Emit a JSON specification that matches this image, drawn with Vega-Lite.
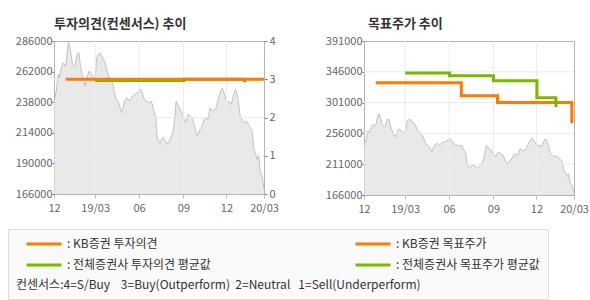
{
  "$schema": "https://vega.github.io/schema/vega-lite/v6.json",
  "background": "white",
  "padding": {"left": 7, "top": 17, "right": 5, "bottom": 0},
  "spacing": 45,
  "datasets": {
    "price": [
      {"d": "2018-12-10", "p": 238000}, {"d": "2018-12-15", "p": 246700}, {"d": "2018-12-19", "p": 259800},
      {"d": "2018-12-22", "p": 257000}, {"d": "2018-12-26", "p": 265000}, {"d": "2018-12-30", "p": 269000},
      {"d": "2019-01-03", "p": 266400}, {"d": "2019-01-06", "p": 270000}, {"d": "2019-01-11", "p": 285500},
      {"d": "2019-01-15", "p": 279500}, {"d": "2019-01-20", "p": 267600}, {"d": "2019-01-25", "p": 266000},
      {"d": "2019-01-30", "p": 275500}, {"d": "2019-02-03", "p": 277000}, {"d": "2019-02-06", "p": 267600},
      {"d": "2019-02-12", "p": 257000}, {"d": "2019-02-17", "p": 250600}, {"d": "2019-02-21", "p": 257000},
      {"d": "2019-02-25", "p": 262400}, {"d": "2019-03-03", "p": 259800}, {"d": "2019-03-08", "p": 257000},
      {"d": "2019-03-11", "p": 258000}, {"d": "2019-03-15", "p": 274000}, {"d": "2019-03-21", "p": 276800},
      {"d": "2019-03-26", "p": 274000}, {"d": "2019-04-01", "p": 270000}, {"d": "2019-04-06", "p": 262400},
      {"d": "2019-04-12", "p": 257000}, {"d": "2019-04-19", "p": 252000}, {"d": "2019-04-25", "p": 241500},
      {"d": "2019-05-02", "p": 237500}, {"d": "2019-05-09", "p": 229700}, {"d": "2019-05-15", "p": 239000},
      {"d": "2019-05-20", "p": 241500}, {"d": "2019-05-26", "p": 239000}, {"d": "2019-06-01", "p": 242800},
      {"d": "2019-06-06", "p": 244000}, {"d": "2019-06-11", "p": 245400}, {"d": "2019-06-16", "p": 246700},
      {"d": "2019-06-19", "p": 248000}, {"d": "2019-06-23", "p": 245400}, {"d": "2019-06-28", "p": 240000},
      {"d": "2019-07-03", "p": 238800}, {"d": "2019-07-09", "p": 237500}, {"d": "2019-07-13", "p": 238800},
      {"d": "2019-07-18", "p": 232300}, {"d": "2019-07-23", "p": 225700}, {"d": "2019-07-26", "p": 210000},
      {"d": "2019-08-01", "p": 206000}, {"d": "2019-08-06", "p": 210000}, {"d": "2019-08-12", "p": 208700},
      {"d": "2019-08-17", "p": 204800}, {"d": "2019-08-23", "p": 208700}, {"d": "2019-08-28", "p": 212600},
      {"d": "2019-09-01", "p": 219200}, {"d": "2019-09-06", "p": 238800}, {"d": "2019-09-11", "p": 234900},
      {"d": "2019-09-17", "p": 231000}, {"d": "2019-09-22", "p": 225700}, {"d": "2019-09-27", "p": 221800},
      {"d": "2019-10-02", "p": 228400}, {"d": "2019-10-07", "p": 227100}, {"d": "2019-10-13", "p": 224400},
      {"d": "2019-10-19", "p": 215300}, {"d": "2019-10-23", "p": 211300}, {"d": "2019-10-28", "p": 216600},
      {"d": "2019-11-02", "p": 219200}, {"d": "2019-11-06", "p": 224400}, {"d": "2019-11-10", "p": 225700},
      {"d": "2019-11-15", "p": 224400}, {"d": "2019-11-20", "p": 233600}, {"d": "2019-11-26", "p": 231000},
      {"d": "2019-12-02", "p": 232300}, {"d": "2019-12-07", "p": 239000}, {"d": "2019-12-13", "p": 246700},
      {"d": "2019-12-17", "p": 249300}, {"d": "2019-12-22", "p": 244000}, {"d": "2019-12-27", "p": 237500},
      {"d": "2020-01-01", "p": 238800}, {"d": "2020-01-06", "p": 236200}, {"d": "2020-01-10", "p": 242800},
      {"d": "2020-01-15", "p": 248000}, {"d": "2020-01-19", "p": 244000}, {"d": "2020-01-23", "p": 233600},
      {"d": "2020-01-26", "p": 225700}, {"d": "2020-01-30", "p": 224400}, {"d": "2020-02-03", "p": 221800},
      {"d": "2020-02-08", "p": 223100}, {"d": "2020-02-13", "p": 220500}, {"d": "2020-02-17", "p": 217800},
      {"d": "2020-02-21", "p": 215300}, {"d": "2020-02-24", "p": 202200}, {"d": "2020-02-28", "p": 198200},
      {"d": "2020-03-03", "p": 193000}, {"d": "2020-03-06", "p": 196900}, {"d": "2020-03-10", "p": 182500},
      {"d": "2020-03-14", "p": 180000}, {"d": "2020-03-18", "p": 169500}
    ],
    "opinion": [
      {"s": "전체증권사 투자의견 평균값", "d": "2019-03-11", "v": 2.97},
      {"s": "전체증권사 투자의견 평균값", "d": "2019-09-23", "v": 3},
      {"s": "전체증권사 투자의견 평균값", "d": "2020-02-04", "v": 2.96},
      {"s": "전체증권사 투자의견 평균값", "d": "2020-02-08", "v": 2.96},
      {"s": "KB증권 투자의견", "d": "2019-01-05", "v": 3},
      {"s": "KB증권 투자의견", "d": "2020-03-18", "v": 3}
    ],
    "target": [
      {"s": "KB증권 목표주가", "d": "2019-01-05", "v": 330000},
      {"s": "KB증권 목표주가", "d": "2019-07-13", "v": 311000},
      {"s": "KB증권 목표주가", "d": "2019-10-01", "v": 301000},
      {"s": "KB증권 목표주가", "d": "2020-03-13", "v": 271000},
      {"s": "전체증권사 목표주가 평균값", "d": "2019-03-11", "v": 344300},
      {"s": "전체증권사 목표주가 평균값", "d": "2019-06-17", "v": 340300},
      {"s": "전체증권사 목표주가 평균값", "d": "2019-09-22", "v": 333000},
      {"s": "전체증권사 목표주가 평균값", "d": "2019-12-27", "v": 308200},
      {"s": "전체증권사 목표주가 평균값", "d": "2020-02-07", "v": 294600}
    ],
    "xgrid": [{"d": "2019-03-11"}, {"d": "2019-06-16"}, {"d": "2019-09-22"}, {"d": "2019-12-26"}],
    "ygridL": [{"v": 1}, {"v": 2}, {"v": 3}],
    "ygridR": [{"v": 211000}, {"v": 256000}, {"v": 301000}, {"v": 346000}]
  },
  "hconcat": [
    {
      "title": {"text": "투자의견(컨센서스) 추이", "anchor": "start", "frame": "group", "fontSize": 13, "fontWeight": "bold", "font": "Noto Sans CJK KR", "color": "#333333", "offset": 4},
      "width": 210,
      "height": 153,
      "layer": [
        {
          "data": {"name": "price"},
          "mark": {"type": "area", "color": "#e0e0e0", "line": {"color": "#c2c2c2", "strokeWidth": 1}},
          "encoding": {
            "x": {"field": "d", "type": "temporal",
              "scale": {"type": "utc", "domain": [{"year": 2018, "month": 12, "date": 10, "utc": true}, {"year": 2020, "month": 3, "date": 18, "utc": true}]},
              "axis": {"title": null, "values": [{"year": 2018, "month": 12, "date": 10, "utc": true}, {"year": 2019, "month": 3, "date": 11, "utc": true}, {"year": 2019, "month": 6, "date": 16, "utc": true}, {"year": 2019, "month": 9, "date": 22, "utc": true}, {"year": 2019, "month": 12, "date": 26, "utc": true}, {"year": 2020, "month": 3, "date": 18, "utc": true}], "labelExpr": "utcmonth(datum.value) == 2 ? utcFormat(datum.value, '%y/%m') : utcFormat(datum.value, '%m')", "labelOverlap": false, "labelFlush": false, "labelPadding": 4, "tickSize": 4, "tickColor": "#bbbbbb"}},
            "y": {"field": "p", "type": "quantitative", "scale": {"domain": [166000, 286000], "nice": false, "zero": false},
              "axis": {"title": null, "values": [166000, 190000, 214000, 238000, 262000, 286000], "format": "d", "labelPadding": 0, "tickSize": 2}},
            "y2": {"datum": 166000}
          }
        },
        {
          "layer": [
            {
              "data": {"name": "xgrid"},
              "mark": {"type": "rule", "color": "#ebebeb", "strokeWidth": 1},
              "encoding": {"x": {"field": "d", "type": "temporal",
                "scale": {"type": "utc", "domain": [{"year": 2018, "month": 12, "date": 10, "utc": true}, {"year": 2020, "month": 3, "date": 18, "utc": true}]},
                "axis": {"title": null, "values": [{"year": 2018, "month": 12, "date": 10, "utc": true}, {"year": 2019, "month": 3, "date": 11, "utc": true}, {"year": 2019, "month": 6, "date": 16, "utc": true}, {"year": 2019, "month": 9, "date": 22, "utc": true}, {"year": 2019, "month": 12, "date": 26, "utc": true}, {"year": 2020, "month": 3, "date": 18, "utc": true}], "labelExpr": "utcmonth(datum.value) == 2 ? utcFormat(datum.value, '%y/%m') : utcFormat(datum.value, '%m')", "labelOverlap": false, "labelFlush": false, "labelPadding": 4, "tickSize": 4, "tickColor": "#bbbbbb"}}}
            },
            {
              "data": {"name": "ygridL"},
              "mark": {"type": "rule", "color": "#ebebeb", "strokeWidth": 1},
              "encoding": {"y": {"field": "v", "type": "quantitative", "scale": {"domain": [0, 4], "nice": false},
                "axis": {"title": null, "orient": "right", "values": [0, 1, 2, 3, 4], "labelPadding": 2, "tickSize": 3}}}
            },
            {
              "data": {"name": "opinion"},
              "mark": {"type": "line", "interpolate": "step-after", "strokeWidth": 3},
              "encoding": {
                "x": {"field": "d", "type": "temporal",
                  "scale": {"type": "utc", "domain": [{"year": 2018, "month": 12, "date": 10, "utc": true}, {"year": 2020, "month": 3, "date": 18, "utc": true}]},
                  "axis": {"title": null, "values": [{"year": 2018, "month": 12, "date": 10, "utc": true}, {"year": 2019, "month": 3, "date": 11, "utc": true}, {"year": 2019, "month": 6, "date": 16, "utc": true}, {"year": 2019, "month": 9, "date": 22, "utc": true}, {"year": 2019, "month": 12, "date": 26, "utc": true}, {"year": 2020, "month": 3, "date": 18, "utc": true}], "labelExpr": "utcmonth(datum.value) == 2 ? utcFormat(datum.value, '%y/%m') : utcFormat(datum.value, '%m')", "labelOverlap": false, "labelFlush": false, "labelPadding": 4, "tickSize": 4, "tickColor": "#bbbbbb"}},
                "y": {"field": "v", "type": "quantitative", "scale": {"domain": [0, 4], "nice": false},
                  "axis": {"title": null, "orient": "right", "values": [0, 1, 2, 3, 4], "labelPadding": 2, "tickSize": 3}},
                "color": {"field": "s", "type": "nominal",
                  "scale": {"domain": ["KB증권 투자의견", "전체증권사 투자의견 평균값", "KB증권 목표주가", "전체증권사 목표주가 평균값"], "range": ["#ff7b00", "#7ab800", "#ff7b00", "#7ab800"]},
                  "legend": {"title": "컨센서스:4=S/Buy\u00a0\u00a0\u00a0\u00a03=Buy(Outperform)\u00a0\u00a02=Neutral\u00a0\u00a0\u00a01=Sell(Underperform)", "labelExpr": "': ' + datum.label", "orient": "none", "legendX": -46, "legendY": 188}}
              }
            }
          ]
        }
      ],
      "resolve": {"scale": {"y": "independent"}}
    },
    {
      "title": {"text": "목표주가 추이", "anchor": "start", "frame": "group", "fontSize": 13, "fontWeight": "bold", "font": "Noto Sans CJK KR", "color": "#333333", "offset": 4, "dx": 4},
      "width": 210,
      "height": 154,
      "layer": [
        {
          "data": {"name": "price"},
          "mark": {"type": "area", "color": "#e0e0e0", "line": {"color": "#c2c2c2", "strokeWidth": 1}},
          "encoding": {
            "x": {"field": "d", "type": "temporal",
              "scale": {"type": "utc", "domain": [{"year": 2018, "month": 12, "date": 10, "utc": true}, {"year": 2020, "month": 3, "date": 18, "utc": true}]},
              "axis": {"title": null, "values": [{"year": 2018, "month": 12, "date": 10, "utc": true}, {"year": 2019, "month": 3, "date": 11, "utc": true}, {"year": 2019, "month": 6, "date": 16, "utc": true}, {"year": 2019, "month": 9, "date": 22, "utc": true}, {"year": 2019, "month": 12, "date": 26, "utc": true}, {"year": 2020, "month": 3, "date": 18, "utc": true}], "labelExpr": "utcmonth(datum.value) == 2 ? utcFormat(datum.value, '%y/%m') : utcFormat(datum.value, '%m')", "labelOverlap": false, "labelFlush": false, "labelPadding": 4, "tickSize": 4, "tickColor": "#bbbbbb"}},
            "y": {"field": "p", "type": "quantitative", "scale": {"domain": [166000, 391000], "nice": false, "zero": false},
              "axis": {"title": null, "values": [166000, 211000, 256000, 301000, 346000, 391000], "format": "d", "labelPadding": 0, "tickSize": 2}},
            "y2": {"datum": 166000}
          }
        },
        {
          "data": {"name": "xgrid"},
          "mark": {"type": "rule", "color": "#ebebeb", "strokeWidth": 1},
          "encoding": {"x": {"field": "d", "type": "temporal",
            "scale": {"type": "utc", "domain": [{"year": 2018, "month": 12, "date": 10, "utc": true}, {"year": 2020, "month": 3, "date": 18, "utc": true}]},
            "axis": {"title": null, "values": [{"year": 2018, "month": 12, "date": 10, "utc": true}, {"year": 2019, "month": 3, "date": 11, "utc": true}, {"year": 2019, "month": 6, "date": 16, "utc": true}, {"year": 2019, "month": 9, "date": 22, "utc": true}, {"year": 2019, "month": 12, "date": 26, "utc": true}, {"year": 2020, "month": 3, "date": 18, "utc": true}], "labelExpr": "utcmonth(datum.value) == 2 ? utcFormat(datum.value, '%y/%m') : utcFormat(datum.value, '%m')", "labelOverlap": false, "labelFlush": false, "labelPadding": 4, "tickSize": 4, "tickColor": "#bbbbbb"}}}
        },
        {
          "data": {"name": "ygridR"},
          "mark": {"type": "rule", "color": "#ebebeb", "strokeWidth": 1},
          "encoding": {"y": {"field": "v", "type": "quantitative", "scale": {"domain": [166000, 391000], "nice": false, "zero": false},
            "axis": {"title": null, "values": [166000, 211000, 256000, 301000, 346000, 391000], "format": "d", "labelPadding": 0, "tickSize": 2}}}
        },
        {
          "data": {"name": "target"},
          "mark": {"type": "line", "interpolate": "step-after", "strokeWidth": 3},
          "encoding": {
            "x": {"field": "d", "type": "temporal",
              "scale": {"type": "utc", "domain": [{"year": 2018, "month": 12, "date": 10, "utc": true}, {"year": 2020, "month": 3, "date": 18, "utc": true}]},
              "axis": {"title": null, "values": [{"year": 2018, "month": 12, "date": 10, "utc": true}, {"year": 2019, "month": 3, "date": 11, "utc": true}, {"year": 2019, "month": 6, "date": 16, "utc": true}, {"year": 2019, "month": 9, "date": 22, "utc": true}, {"year": 2019, "month": 12, "date": 26, "utc": true}, {"year": 2020, "month": 3, "date": 18, "utc": true}], "labelExpr": "utcmonth(datum.value) == 2 ? utcFormat(datum.value, '%y/%m') : utcFormat(datum.value, '%m')", "labelOverlap": false, "labelFlush": false, "labelPadding": 4, "tickSize": 4, "tickColor": "#bbbbbb"}},
            "y": {"field": "v", "type": "quantitative", "scale": {"domain": [166000, 391000], "nice": false, "zero": false},
              "axis": {"title": null, "values": [166000, 211000, 256000, 301000, 346000, 391000], "format": "d", "labelPadding": 0, "tickSize": 2}},
            "color": {"field": "s", "type": "nominal",
              "scale": {"domain": ["KB증권 투자의견", "전체증권사 투자의견 평균값", "KB증권 목표주가", "전체증권사 목표주가 평균값"], "range": ["#ff7b00", "#7ab800", "#ff7b00", "#7ab800"]},
              "legend": {"title": "컨센서스:4=S/Buy\u00a0\u00a0\u00a0\u00a03=Buy(Outperform)\u00a0\u00a02=Neutral\u00a0\u00a0\u00a01=Sell(Underperform)", "labelExpr": "': ' + datum.label", "orient": "none", "legendX": -46, "legendY": 188}}
          }
        }
      ]
    }
  ],
  "resolve": {"scale": {"color": "shared"}},
  "config": {
    "font": "Noto Sans CJK KR",
    "view": {"stroke": "#b4b4b4"},
    "axis": {"labelFont": "Noto Sans CJK KR", "labelFontSize": 11, "labelColor": "#666666", "domainColor": "#b4b4b4", "tickColor": "#777777", "grid": false, "zindex": 1},
    "legend": {
      "columns": 2, "symbolType": "stroke", "symbolSize": 1225, "symbolStrokeWidth": 3,
      "clipHeight": 14, "rowPadding": 7, "columnPadding": 134, "padding": 8, "symbolOffset": 9,
      "strokeColor": "#dddddd", "fillColor": "#fafafa",
      "labelFont": "Noto Sans CJK KR", "labelFontSize": 12, "labelColor": "#333333", "labelOffset": 4, "labelLimit": 300,
      "titleOrient": "bottom", "titleAnchor": "start", "titleFont": "Noto Sans CJK KR", "titleFontSize": 12, "titleFontWeight": "normal", "titleColor": "#333333", "titlePadding": 8, "titleLimit": 560
    }
  }
}
